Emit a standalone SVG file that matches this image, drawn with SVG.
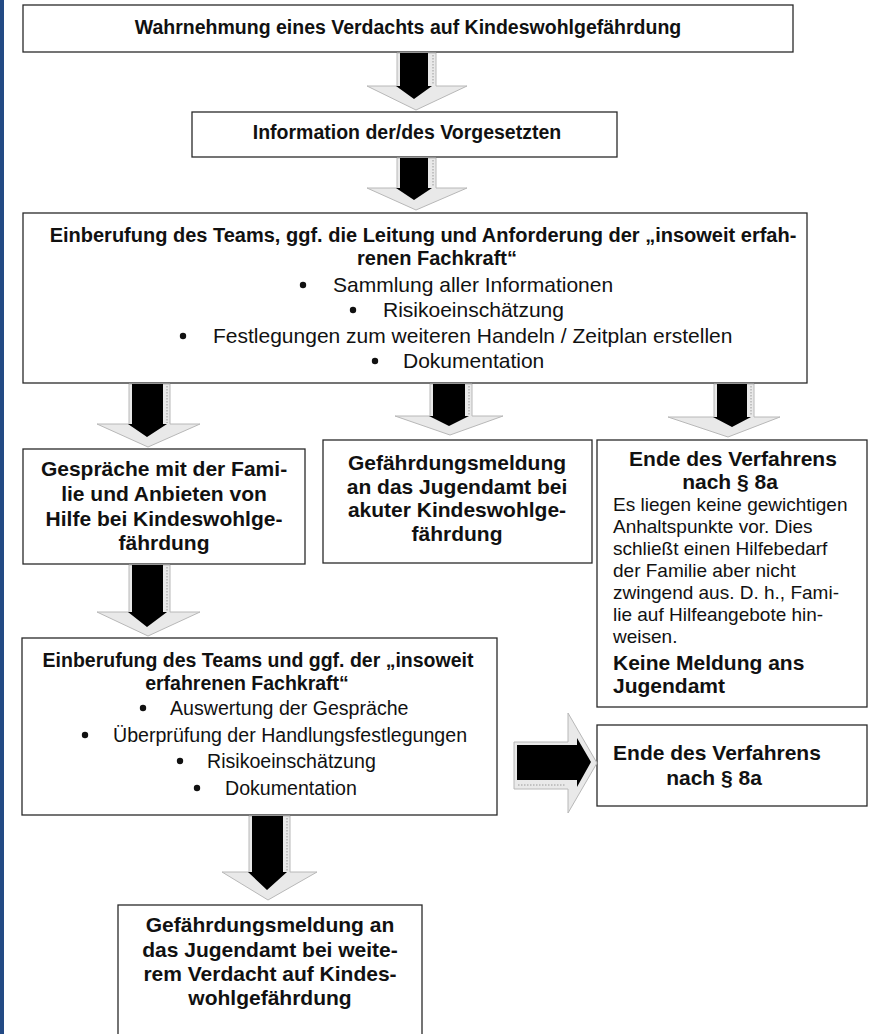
<svg xmlns="http://www.w3.org/2000/svg" width="875" height="1034" viewBox="0 0 875 1034">
<style>
.box{fill:#fff;stroke:#2a2a2a;stroke-width:1.3}
.b{font-family:"Liberation Sans",Arial,sans-serif;font-weight:bold;fill:#111}
.r{font-family:"Liberation Sans",Arial,sans-serif;fill:#111}
.c{text-anchor:middle}
.f195{font-size:19.5px}
.f21{font-size:21px}
.f19{font-size:19px}
.dot{fill:#111}
.glow{fill:#e9e9e9;stroke:#b8b8b8;stroke-width:1}
.blk{fill:#000}
.dash{fill:none;stroke:#9a9a9a;stroke-width:1;stroke-dasharray:1.5 1.5}
</style>
<rect x="0" y="0" width="4" height="1034" fill="#234a84"/>

<g id="n1">
<rect class="box" x="23" y="5" width="770" height="47"/>
<text class="b c f195" x="408" y="34">Wahrnehmung eines Verdachts auf Kindeswohlgefährdung</text>
</g>

<g id="n2">
<rect class="box" x="192" y="112" width="425" height="45"/>
<text class="b c f195" x="407" y="139">Information der/des Vorgesetzten</text>
</g>

<g id="n3">
<rect class="box" x="23" y="213" width="784" height="170"/>
<text class="b c" font-size="20" x="423" y="242">Einberufung des Teams, ggf. die Leitung und Anforderung der „insoweit erfah-</text>
<text class="b c" font-size="20" x="437" y="265">renen Fachkraft“</text>
<circle class="dot" cx="303" cy="285" r="3.2"/>
<text class="r f21" x="333" y="292">Sammlung aller Informationen</text>
<circle class="dot" cx="353" cy="310" r="3.2"/>
<text class="r f21" x="383" y="317">Risikoeinschätzung</text>
<circle class="dot" cx="183" cy="336" r="3.2"/>
<text class="r f21" x="213" y="343">Festlegungen zum weiteren Handeln / Zeitplan erstellen</text>
<circle class="dot" cx="375" cy="361" r="3.2"/>
<text class="r f21" x="403" y="368">Dokumentation</text>
</g>

<g id="n4">
<rect class="box" x="23" y="449" width="282" height="115"/>
<text class="b c f21" x="164" y="476">Gespräche mit der Fami-</text>
<text class="b c f21" x="164" y="501">lie und Anbieten von</text>
<text class="b c f21" x="164" y="526">Hilfe bei Kindeswohlge-</text>
<text class="b c f21" x="164" y="550">fährdung</text>
</g>

<g id="n5">
<rect class="box" x="323" y="440" width="269" height="123"/>
<text class="b c f21" x="457" y="470">Gefährdungsmeldung</text>
<text class="b c f21" x="457" y="494">an das Jugendamt bei</text>
<text class="b c f21" x="457" y="517">akuter Kindeswohlge-</text>
<text class="b c f21" x="457" y="541">fährdung</text>
</g>

<g id="n6">
<rect class="box" x="597" y="440" width="270" height="267"/>
<text class="b c f21" x="733" y="466">Ende des Verfahrens</text>
<text class="b c f21" x="730" y="489">nach § 8a</text>
<text class="r f19" x="613" y="511">Es liegen keine gewichtigen</text>
<text class="r f19" x="613" y="533">Anhaltspunkte vor. Dies</text>
<text class="r f19" x="613" y="555">schließt einen Hilfebedarf</text>
<text class="r f19" x="613" y="577">der Familie aber nicht</text>
<text class="r f19" x="613" y="599">zwingend aus. D. h., Fami-</text>
<text class="r f19" x="613" y="621">lie auf Hilfeangebote hin-</text>
<text class="r f19" x="613" y="643">weisen.</text>
<text class="b f21" x="613" y="670">Keine Meldung ans</text>
<text class="b f21" x="613" y="693">Jugendamt</text>
</g>

<g id="n7">
<rect class="box" x="22" y="638" width="475" height="177"/>
<text class="b c f195" x="258" y="667">Einberufung des Teams und ggf. der „insoweit</text>
<text class="b c f195" x="247" y="690">erfahrenen Fachkraft“</text>
<circle class="dot" cx="143" cy="708" r="3.2"/>
<text class="r" font-size="19.6" x="170" y="715">Auswertung der Gespräche</text>
<circle class="dot" cx="85" cy="735" r="3.2"/>
<text class="r" font-size="19.6" x="113" y="742">Überprüfung der Handlungsfestlegungen</text>
<circle class="dot" cx="180" cy="761" r="3.2"/>
<text class="r" font-size="19.6" x="207" y="768">Risikoeinschätzung</text>
<circle class="dot" cx="197" cy="788" r="3.2"/>
<text class="r" font-size="19.6" x="225" y="795">Dokumentation</text>
</g>

<g id="n8">
<rect class="box" x="597" y="725" width="270" height="81"/>
<text class="b c f21" x="717" y="760">Ende des Verfahrens</text>
<text class="b c f21" x="714" y="785">nach § 8a</text>
</g>

<g id="n9">
<rect class="box" x="118" y="905" width="304" height="140"/>
<text class="b c f21" x="270" y="932">Gefährdungsmeldung an</text>
<text class="b c f21" x="270" y="957">das Jugendamt bei weite-</text>
<text class="b c f21" x="270" y="981">rem Verdacht auf Kindes-</text>
<text class="b c f21" x="270" y="1005">wohlgefährdung</text>
</g>

<g id="connectors">
<path class="glow" d="M397,53 H436 V86 H467 L416,110 L367,86 H397 Z"/>
<path class="blk" d="M400,53 H428 V86 H432 L414,99 L396,86 H400 Z"/>
<path class="dash" d="M433,55 V85"/>

<path class="glow" d="M397,158 H436 V188 H467 L416,210 L367,188 H397 Z"/>
<path class="blk" d="M400,158 H428 V188 H432 L414,200 L396,188 H400 Z"/>
<path class="dash" d="M433,160 V187"/>

<path class="glow" d="M129,384 H170 V424 H200 L148,447 L97,424 H129 Z"/>
<path class="blk" d="M132,384 H163 V424 H167 L147,437 L128,424 H132 Z"/>
<path class="dash" d="M167,386 V423"/>

<path class="glow" d="M430,384 H472 V416 H503 L450,435 L395,416 H430 Z"/>
<path class="blk" d="M433,384 H465 V416 H469 L449,426 L429,416 H433 Z"/>
<path class="dash" d="M469,386 V415"/>

<path class="glow" d="M714,384 H754 V417 H780 L728,437 L668,417 H714 Z"/>
<path class="blk" d="M717,384 H747 V417 H751 L732,427 L713,417 H717 Z"/>
<path class="dash" d="M751,386 V416"/>

<path class="glow" d="M129,565 H170 V612 H200 L148,636 L97,612 H129 Z"/>
<path class="blk" d="M132,565 H163 V612 H167 L147,627 L128,612 H132 Z"/>
<path class="dash" d="M167,567 V611"/>

<path class="glow" d="M249,816 H290 V872 H317 L268,900 L222,872 H249 Z"/>
<path class="blk" d="M252,816 H283 V872 H287 L267,890 L248,872 H252 Z"/>
<path class="dash" d="M287,818 V871"/>

<path class="glow" d="M514,742 H568 V713 L597,763 L568,813 V789 H514 Z"/>
<path class="blk" d="M517,745 H577 V738 L591,762 L577,787 V780 H517 Z"/>
<path class="dash" d="M518,785 H566"/>
</g>
</svg>
